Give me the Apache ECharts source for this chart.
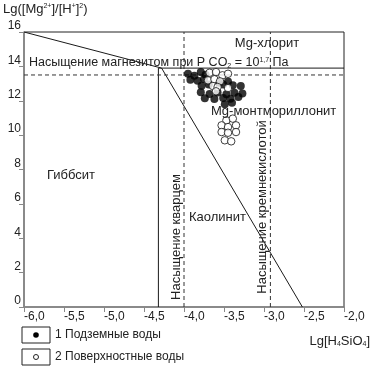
<!DOCTYPE html>
<html><head><meta charset="utf-8">
<script src="https://cdn.jsdelivr.net/npm/echarts@6/dist/echarts.min.js"></script>
<style>html,body{margin:0;padding:0;background:#fff}#c{width:372px;height:367px}</style>
</head><body><div id="c"></div>
<script>
// Axis ticks
const xTickValues = [-6.0, -5.5, -5.0, -4.5, -4.0, -3.5, -3.0, -2.5, -2.0];
const xTickLabels = ['-6,0', '-5,5', '-5,0', '-4,5', '-4,0', '-3,5', '-3,0', '-2,5', '-2,0'];
const yTickValues = [0, 2, 4, 6, 8, 10, 12, 14, 16];

// 1 Подземные воды (filled)
const groundX = [-3.95, -3.87, -3.79, -3.73, -3.92, -3.83, -3.75, -3.78, -3.69, -3.51, -3.39, -3.29, -3.79, -3.68, -3.58, -3.47, -3.37, -3.27, -3.74, -3.62, -3.51, -3.42, -3.32, -3.49, -3.40, -3.56, -3.45];
const groundY = [13.57, 13.45, 13.67, 13.52, 13.22, 13.17, 13.27, 12.88, 12.94, 12.95, 12.90, 12.86, 12.50, 12.40, 12.48, 12.38, 12.47, 12.42, 12.14, 12.10, 12.16, 12.12, 12.22, 11.80, 11.88, 13.05, 13.12];

// 2 Поверхностные воды (hollow)
const surfaceX = [-3.68, -3.60, -3.52, -3.45, -3.70, -3.62, -3.55, -3.64, -3.58, -3.45, -3.60, -3.47, -3.39, -3.53, -3.45, -3.35, -3.53, -3.45, -3.35, -3.49, -3.41];
const surfaceY = [13.63, 13.67, 13.48, 13.57, 13.19, 13.25, 13.13, 12.86, 12.80, 12.74, 12.55, 10.86, 10.96, 10.57, 10.47, 10.57, 10.18, 10.14, 10.18, 9.70, 9.64];

// Boundary lines (data coordinates)
const boundaryDiagX = [-6.0, -4.28, -2.52];
const boundaryDiagY = [16, 13.9, 0];
const gibbsiteVertX = [-4.32, -4.32];
const gibbsiteVertY = [0, 13.9];
const chloriteHorzX = [-4.32, -2.0];
const chloriteHorzY = [13.9, 13.9];
const magnesiteX = [-6.0, -2.0];
const magnesiteY = [13.5, 13.5];
const quartzX = [-4.0, -4.0];
const quartzY = [0, 16];
const silicaX = [-2.92, -2.92];
const silicaY = [0, 16];

const zip = (xs, ys) => xs.map((x, i) => [x, ys[i]]);
const FONT = 'Liberation Sans';
const lineColor = '#1a1a1a';

function lineSeries(xs, ys, dashed) {
  return {
    type: 'line', data: zip(xs, ys), symbol: 'none', silent: true,
    lineStyle: { color: dashed ? '#333' : lineColor, width: 1, type: dashed ? [4, 3] : 'solid' },
    z: 3
  };
}

const chart = echarts.init(document.getElementById('c'), null, { renderer: 'canvas' });
chart.setOption({
  animation: false,
  backgroundColor: '#fff',
  grid: { left: 24, right: 28, top: 32, bottom: 60, show: true, borderColor: '#222', borderWidth: 1 },
  xAxis: {
    type: 'value', min: -6, max: -2, interval: 0.5,
    axisLine: { show: true, onZero: false, lineStyle: { color: '#888', width: 1.5 } },
    axisTick: { show: true, length: 5, lineStyle: { color: '#888' } },
    splitLine: { show: false },
    axisLabel: {
      fontFamily: FONT, fontSize: 12, color: '#222', align: 'left', margin: 4,
      formatter: v => { const i = xTickValues.findIndex(t => Math.abs(t - v) < 1e-6); return i >= 0 ? xTickLabels[i] : ''; }
    }
  },
  yAxis: {
    type: 'value', min: 0, max: 16, interval: 2,
    axisLine: { show: true, lineStyle: { color: '#888', width: 1.5 } },
    axisTick: { show: true, length: 5, lineStyle: { color: '#888' } },
    splitLine: { show: false },
    axisLabel: { fontFamily: FONT, fontSize: 12, color: '#222', verticalAlign: 'bottom', margin: 3,
      formatter: v => yTickValues.includes(v) ? String(v) : '' }
  },
  series: [
    lineSeries(boundaryDiagX, boundaryDiagY, false),
    lineSeries(gibbsiteVertX, gibbsiteVertY, false),
    lineSeries(chloriteHorzX, chloriteHorzY, false),
    lineSeries(magnesiteX, magnesiteY, true),
    lineSeries(quartzX, quartzY, true),
    lineSeries(silicaX, silicaY, true),
    {
      name: '1 Подземные воды', type: 'scatter', data: zip(groundX, groundY),
      symbol: 'circle', symbolSize: 8, itemStyle: { color: '#000' }, z: 5
    },
    {
      name: '2 Поверхностные воды', type: 'scatter', data: zip(surfaceX, surfaceY),
      symbol: 'circle', symbolSize: 7.5, itemStyle: { color: '#fff', borderColor: '#111', borderWidth: 1 }, z: 6
    }
  ],
  graphic: [
    { type: 'text', left: 3, top: 3, z: 10, style: {
      text: 'Lg([Mg{sup|2+}]/[H{sup|+}]{sup|2})', fontFamily: FONT, fontSize: 13, fill: '#222',
      rich: { sup: { fontSize: 7, verticalAlign: 'top', padding: [0, 0, 6, 0], fontFamily: FONT, fill: '#222' } } } },
    { type: 'text', x: 370, y: 341, z: 10, style: {
      text: 'Lg[H{sub|4}SiO{sub|4}]', fontFamily: FONT, fontSize: 13, fill: '#222', align: 'right', verticalAlign: 'middle',
      rich: { sub: { fontSize: 7, padding: [6, 0, 0, 0], fontFamily: FONT, fill: '#222' } } } },
    { type: 'text', x: 267, y: 43, z: 10, style: { text: 'Mg-хлорит', fontFamily: FONT, fontSize: 13, fill: '#222', align: 'center', verticalAlign: 'middle' } },
    { type: 'text', x: 29, y: 63, z: 10, style: {
      text: 'Насыщение магнезитом при P CO{sub|2} = 10{sup|1,7} Па', fontFamily: FONT, fontSize: 12.5, fill: '#222', verticalAlign: 'middle',
      rich: {
        sub: { fontSize: 7, padding: [6, 0, 0, 0], fontFamily: FONT, fill: '#222' },
        sup: { fontSize: 7, padding: [0, 0, 6, 0], fontFamily: FONT, fill: '#222' }
      } } },
    { type: 'text', x: 211, y: 111, z: 10, style: { text: 'Mg-монтмориллонит', fontFamily: FONT, fontSize: 13, fill: '#222', verticalAlign: 'middle' } },
    { type: 'text', x: 47, y: 175, z: 10, style: { text: 'Гиббсит', fontFamily: FONT, fontSize: 13, fill: '#222', verticalAlign: 'middle' } },
    { type: 'text', x: 189, y: 217, z: 10, style: { text: 'Каолинит', fontFamily: FONT, fontSize: 13, fill: '#222', verticalAlign: 'middle' } },
    { type: 'text', x: 176, y: 237, rotation: Math.PI / 2, z: 10, style: { text: 'Насыщение кварцем', fontFamily: FONT, fontSize: 13, fill: '#222', align: 'center', verticalAlign: 'middle' } },
    { type: 'text', x: 262, y: 207, rotation: Math.PI / 2, z: 10, style: { text: 'Насыщение кремнекислотой', fontFamily: FONT, fontSize: 13, fill: '#222', align: 'center', verticalAlign: 'middle' } },
    // legend
    { type: 'rect', shape: { x: 22, y: 327, width: 28, height: 16 }, z: 10, style: { fill: '#fff', stroke: '#222', lineWidth: 1 } },
    { type: 'circle', shape: { cx: 36, cy: 335, r: 2.8 }, z: 11, style: { fill: '#000' } },
    { type: 'text', x: 55, y: 335, z: 10, style: { text: '1 Подземные воды', fontFamily: FONT, fontSize: 12, fill: '#222', verticalAlign: 'middle' } },
    { type: 'rect', shape: { x: 22, y: 349, width: 28, height: 16 }, z: 10, style: { fill: '#fff', stroke: '#222', lineWidth: 1 } },
    { type: 'circle', shape: { cx: 36, cy: 357, r: 2.5 }, z: 11, style: { fill: '#fff', stroke: '#222', lineWidth: 1 } },
    { type: 'text', x: 55, y: 357, z: 10, style: { text: '2 Поверхностные воды', fontFamily: FONT, fontSize: 12, fill: '#222', verticalAlign: 'middle' } }
  ]
});
</script>
</body></html>
